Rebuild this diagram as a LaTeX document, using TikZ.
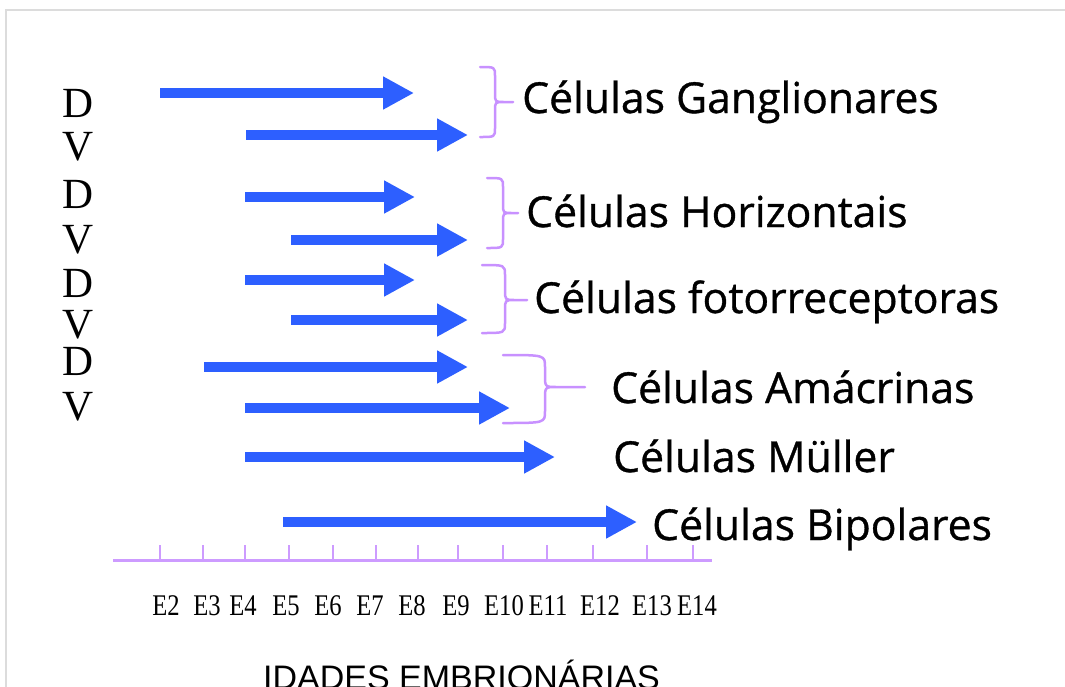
\documentclass[tikz,border=0pt]{standalone}
\usepackage{fontspec}
\setmainfont{Liberation Serif}
\newfontfamily\labelfont[FakeBold=0.8]{Open Sans}
\newfontfamily\axisfont{Liberation Sans}
\usetikzlibrary{arrows.meta}
\definecolor{arrowblue}{RGB}{45,95,255}
\definecolor{bracepurple}{RGB}{200,145,255}
\definecolor{axispurple}{RGB}{205,155,255}
\definecolor{framegray}{RGB}{220,220,220}
\tikzset{
  bluearrow/.style={draw=arrowblue, line width=10pt, -{Triangle[length=31pt,width=31pt]}},
  bracepath/.style={draw=bracepurple, line width=2.5pt, line cap=round, line join=round},
  axisline/.style={draw=axispurple, line width=3pt},
  tickline/.style={draw=axispurple, line width=2pt},
  celltext/.style={font=\labelfont\fontsize{42.7}{48}\selectfont, anchor=base west, inner sep=0pt},
  dvtext/.style={font=\fontsize{43}{50}\selectfont, anchor=base, inner sep=0pt},
  agetext/.style={font=\fontsize{30}{33}\selectfont, anchor=base, inner sep=0pt},
}
\newcommand{\drawbrace}[7]{% x0 xv xtip ytop ymid ybot r
  \draw[bracepath] (#1,#4) .. controls (#2,#4) .. (#2,#4+#7) -- (#2,#5-#7)
    .. controls (#2,#5) .. (#2+#7,#5) -- (#3,#5)
    (#2+#7,#5) .. controls (#2,#5) .. (#2,#5+#7) -- (#2,#6-#7)
    .. controls (#2,#6) .. (#1,#6);
}
\begin{document}
\begin{tikzpicture}[x=1pt,y=-1pt]
\useasboundingbox (0,0) rectangle (1065,686);
\fill[white] (0,0) rectangle (1065,686);
% frame
\draw[framegray, line width=1.5pt] (6,700) -- (6,10) -- (1070,10);

% D / V letters
\node[dvtext] (d1) at (78,117) {D};
\node[dvtext] (v1) at (78,160) {V};
\node[dvtext] (d2) at (78,208) {D};
\node[dvtext] (v2) at (78,253) {V};
\node[dvtext] (d3) at (78,297) {D};
\node[dvtext] (v3) at (78,338) {V};
\node[dvtext] (d4) at (78,375) {D};
\node[dvtext] (v4) at (78,420) {V};

% arrow coordinates
\coordinate (a1s) at (160,93);  \coordinate (a1e) at (414,93);
\coordinate (a2s) at (246,135); \coordinate (a2e) at (468,135);
\coordinate (a3s) at (245,197); \coordinate (a3e) at (415,197);
\coordinate (a4s) at (291,240); \coordinate (a4e) at (468,240);
\coordinate (a5s) at (245,280); \coordinate (a5e) at (415,280);
\coordinate (a6s) at (291,320); \coordinate (a6e) at (468,320);
\coordinate (a7s) at (204,367); \coordinate (a7e) at (468,367);
\coordinate (a8s) at (245,408); \coordinate (a8e) at (510,408);
\coordinate (a9s) at (245,457); \coordinate (a9e) at (555,457);
\coordinate (a10s) at (283,522); \coordinate (a10e) at (637,522);
\foreach \i in {1,...,10} { \draw[bluearrow] (a\i s) -- (a\i e); }

% braces
\drawbrace{480}{495}{513}{67}{102}{137}{9}
\drawbrace{487}{503}{518}{178}{213}{248}{9}
\drawbrace{482}{505}{527}{265}{300}{333}{10}
\drawbrace{503}{545}{585}{355}{387}{423}{12}

% cell labels
\node[celltext] (gang) at (522,113) {Células Ganglionares};
\node[celltext] (hori) at (526,227) {Células Horizontais};
\node[celltext] (foto) at (534,313) {Células fotorreceptoras};
\node[celltext] (amac) at (611,403) {Células Amácrinas};
\node[celltext] (mull) at (613,472) {Células Müller};
\node[celltext] (bipo) at (652,540) {Células Bipolares};

% axis
\coordinate (axl) at (113,560); \coordinate (axr) at (712,560);
\draw[axisline] (axl) -- (axr);
\foreach \x in {160,203,245,289,333,376,418,458,503,547,593,647,693} {
  \draw[tickline] (\x,545) -- (\x,560);
}
\foreach \x/\t in {166/E2,207/E3,243/E4,286/E5,328/E6,370/E7,412/E8,456/E9,504/E10,548/E11,600/E12,652/E13,697/E14} {
  \node[agetext] (lab\t) at (\x,615) {\scalebox{0.82}[1]{\t}};
}
\node[font=\axisfont\fontsize{34}{38}\selectfont, anchor=base west, inner sep=0pt] (idades) at (263,689) {IDADES EMBRIONÁRIAS};
\end{tikzpicture}
\end{document}
